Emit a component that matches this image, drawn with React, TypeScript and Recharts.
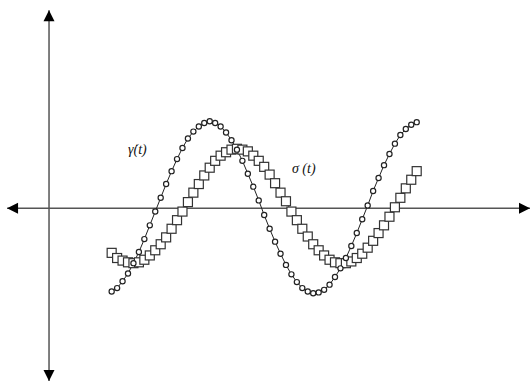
import { LineChart, Line, XAxis, YAxis, ReferenceLine, ReferenceDot } from 'recharts'

// sample times (one marker per step)
const times = [
  1.15, 1.25, 1.35, 1.45, 1.55, 1.65, 1.75, 1.85, 1.95, 2.05,
  2.15, 2.25, 2.35, 2.45, 2.55, 2.65, 2.75, 2.85, 2.95, 3.05,
  3.15, 3.25, 3.35, 3.45, 3.55, 3.65, 3.75, 3.85, 3.95, 4.05,
  4.15, 4.25, 4.35, 4.45, 4.55, 4.65, 4.75, 4.85, 4.95, 5.05,
  5.15, 5.25, 5.35, 5.45, 5.55, 5.65, 5.75, 5.85, 5.95, 6.05,
  6.15, 6.25, 6.35, 6.45, 6.55, 6.65, 6.75,
]

// shear rate, gamma-dot(t)
const gammaDot = [
  -0.97, -0.93, -0.85, -0.76, -0.64, -0.51, -0.36, -0.2, -0.04, 0.12,
  0.28, 0.43, 0.57, 0.7, 0.81, 0.89, 0.95, 0.99, 1.01, 0.99,
  0.95, 0.88, 0.79, 0.68, 0.55, 0.4, 0.25, 0.09, -0.08, -0.24,
  -0.39, -0.53, -0.66, -0.77, -0.86, -0.93, -0.97, -0.99, -0.98, -0.95,
  -0.89, -0.8, -0.7, -0.58, -0.44, -0.29, -0.13, 0.03, 0.2, 0.35,
  0.5, 0.63, 0.75, 0.85, 0.92, 0.97, 1.0,
]

// stress, sigma(t)
const sigma = [
  -0.52, -0.58, -0.61, -0.63, -0.64, -0.63, -0.6, -0.55, -0.49, -0.42,
  -0.34, -0.24, -0.14, -0.04, 0.07, 0.18, 0.28, 0.38, 0.47, 0.55,
  0.61, 0.65, 0.68, 0.69, 0.68, 0.66, 0.61, 0.55, 0.48, 0.39,
  0.29, 0.18, 0.08, -0.04, -0.14, -0.24, -0.33, -0.42, -0.49, -0.55,
  -0.6, -0.63, -0.64, -0.64, -0.62, -0.58, -0.53, -0.46, -0.38, -0.29,
  -0.2, -0.1, 0.01, 0.12, 0.23, 0.33, 0.43,
]

const rows = times.map((t, i) => ({ t, g: gammaDot[i], s: sigma[i] }))

const X_DOMAIN: [number, number] = [-0.9, 8.83]
const Y_DOMAIN: [number, number] = [-2.01, 2.42]

function arrowHead(tipX: number, tipY: number, dx: number, dy: number) {
  // dx, dy: unit vector pointing toward the tip
  const len = 11
  const half = 5.5
  const bx = tipX - dx * len
  const by = tipY - dy * len
  const px = -dy * half
  const py = dx * half
  return `${tipX},${tipY} ${bx + px},${by + py} ${bx - px},${by - py}`
}

function ArrowAxis(props: any) {
  const { x1, y1, x2, y2 } = props
  const L = Math.hypot(x2 - x1, y2 - y1) || 1
  const ux = (x2 - x1) / L
  const uy = (y2 - y1) / L
  return (
    <g>
      <line x1={x1} y1={y1} x2={x2} y2={y2} stroke="#555" strokeWidth={1.5} />
      <polygon points={arrowHead(x1, y1, -ux, -uy)} fill="#000" />
      <polygon points={arrowHead(x2, y2, ux, uy)} fill="#000" />
    </g>
  )
}

function GammaDot(props: any) {
  const { cx, cy, index } = props
  if (cx == null || cy == null) return <g key={`g-${index}`} />
  return <circle key={`g-${index}`} cx={cx} cy={cy} r={2.6} fill="#fff" stroke="#222" strokeWidth={1.2} />
}

function SigmaDot(props: any) {
  const { cx, cy, index } = props
  if (cx == null || cy == null) return <g key={`s-${index}`} />
  return <rect key={`s-${index}`} x={cx - 4.5} y={cy - 4.5} width={9} height={9} fill="#fff" stroke="#333" strokeWidth={1.2} />
}

function labelShape(text: string) {
  return (props: any) => (
    <text
      x={props.cx}
      y={props.cy}
      fontFamily="'Liberation Serif', 'DejaVu Serif', serif"
      fontStyle="italic"
      fontSize={14}
      fill="#111"
    >
      {text}
    </text>
  )
}

export default function App() {
  return (
    <div style={{ position: 'absolute', left: 0, top: 0, width: 530, height: 381, background: '#fff' }}>
      <LineChart width={530} height={381} data={rows} margin={{ top: 0, right: 0, bottom: 0, left: 0 }}>
        <XAxis dataKey="t" type="number" domain={X_DOMAIN} allowDataOverflow hide />
        <YAxis type="number" domain={Y_DOMAIN} allowDataOverflow hide />
        <ReferenceLine
          segment={[{ x: -0.77, y: 0 }, { x: 8.83, y: 0 }]}
          ifOverflow="visible"
          shape={ArrowAxis}
        />
        <ReferenceLine
          segment={[{ x: 0, y: -2.01 }, { x: 0, y: 2.3 }]}
          ifOverflow="visible"
          shape={ArrowAxis}
        />
        <Line
          type="linear"
          dataKey="s"
          stroke="#444"
          strokeWidth={1}
          dot={SigmaDot}
          activeDot={false}
          isAnimationActive={false}
        />
        <Line
          type="linear"
          dataKey="g"
          stroke="#222"
          strokeWidth={1}
          dot={GammaDot}
          activeDot={false}
          isAnimationActive={false}
        />
        <ReferenceDot x={1.45} y={0.63} ifOverflow="visible" shape={labelShape('γ̇(t)')} />
        <ReferenceDot x={4.46} y={0.41} ifOverflow="visible" shape={labelShape('σ (t)')} />
      </LineChart>
    </div>
  )
}
